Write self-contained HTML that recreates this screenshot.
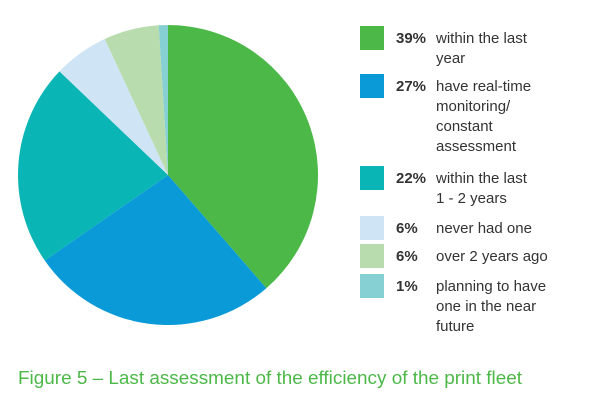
<!DOCTYPE html>
<html><head><meta charset="utf-8"><style>
body{margin:0;background:#fff;width:604px;height:401px;overflow:hidden;font-family:"Liberation Sans",sans-serif}
</style></head><body>
<svg width="604" height="401" id="svg">
<g id="slices"></g>
<g id="legend"></g>
<text x="18" y="384" font-size="18" textLength="504" lengthAdjust="spacingAndGlyphs" fill="#4cb848">Figure 5 – Last assessment of the efficiency of the print fleet</text>
</svg>
<script>
const values=[39,27,22,6,6,1];
const pctLabels=["39%","27%","22%","6%","6%","1%"];
const labels=[["within the last","year"],["have real-time","monitoring/","constant","assessment"],["within the last","1 - 2 years"],["never had one"],["over 2 years ago"],["planning to have","one in the near","future"]];
const colors=["#4cb848","#0a9ad8","#0ab5b5","#cfe4f5","#b9dcae","#86d0d3"];
const names=["within-last-year","real-time-monitoring","within-1-2-years","never-had-one","over-2-years-ago","planning-to-have"];
const NS="http://www.w3.org/2000/svg";
const cx=168,cy=175,r=150;
const total=values.reduce((a,b)=>a+b,0);
let a0=0;
const g=document.getElementById('slices');
values.forEach((v,i)=>{
  const a1=a0+v/total*2*Math.PI;
  const x0=cx+r*Math.sin(a0),y0=cy-r*Math.cos(a0),x1=cx+r*Math.sin(a1),y1=cy-r*Math.cos(a1);
  const p=document.createElementNS(NS,'path');
  p.setAttribute('d',`M${cx},${cy}L${x0},${y0}A${r},${r} 0 ${a1-a0>Math.PI?1:0} 1 ${x1},${y1}Z`);
  p.setAttribute('fill',colors[i]);
  
  
  g.appendChild(p);a0=a1;
});
const lg=document.getElementById('legend');
const sqY=[26,74,166,216,244,274];
sqY.forEach((y,i)=>{
  const rc=document.createElementNS(NS,'rect');
  rc.setAttribute('x',360);rc.setAttribute('y',y);rc.setAttribute('width',24);rc.setAttribute('height',24);rc.setAttribute('fill',colors[i]);
  
  
  lg.appendChild(rc);
  const b=y+17;
  const t=document.createElementNS(NS,'text');
  t.setAttribute('x',396);t.setAttribute('y',b);t.setAttribute('font-size','15');t.setAttribute('font-weight','bold');t.setAttribute('fill','#333');
  t.textContent=pctLabels[i];
  
  
  lg.appendChild(t);
  labels[i].forEach((ln,j)=>{
    const u=document.createElementNS(NS,'text');
    u.setAttribute('x',436);u.setAttribute('y',b+j*20);u.setAttribute('font-size','15');u.setAttribute('fill','#333');
    u.textContent=ln;
    
    
    lg.appendChild(u);
  });
});
</script>
</body></html>
